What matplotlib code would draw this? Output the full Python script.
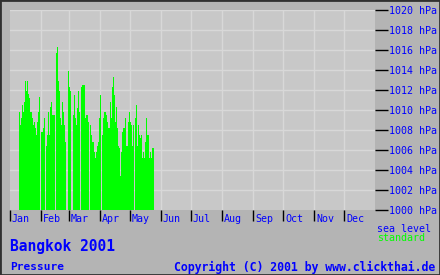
import numpy as np
import matplotlib
matplotlib.use('Agg')
import matplotlib.pyplot as plt
from matplotlib.patches import Rectangle

# daily air pressure (hPa), first value is day index 9 (Jan 10), None = no reading
first_day = 9
pressure = [
    1009.8, 1008.5, 1009.2, 1010.5, 1009.8, 1010.8, 1012.9, 1011.9, 1012.9, 1011.6,
    1011.2, 1009.8, 1009.8, 1009.2, 1008.5, 1008.8, 1008.2, 1007.5, 1008.8, 1009.8,
    1011.3, None, 1007.8, 1007.8, 1008.2, 1009.2, None, 1006.4, 1007.5, 1009.8,
    1007.5, 1010.3, 1010.8, 1009.5, 1009.5, 1009.5, None, 1015.7, 1016.3, 1012.9,
    1011.9, 1009.2, 1008.5, 1010.8, 1009.8, 1008.5, 1006.8, None, None, 1013.9,
    1012.3, 1011.9, None, None, 1009.5, 1011.5, 1009.2, 1008.5, 1010.2, 1011.9,
    1009.8, None, 1012.3, 1012.5, 1012.5, 1012.5, 1009.2, 1009.5, 1009.5, 1008.8,
    None, 1008.5, 1007.5, 1006.8, 1006.8, 1005.8, 1005.2, 1005.8, 1006.4, 1006.8,
    1009.2, 1011.5, None, 1007.5, 1009.2, 1009.8, 1009.8, 1009.5, 1008.8, 1008.2,
    1008.2, 1010.8, 1009.2, 1012.3, 1013.3, 1011.5, 1008.8, 1010.3, 1008.2, 1006.4,
    1006.2, 1003.4, 1005.8, 1007.8, 1008.2, 1008.2, 1009.2, 1006.4, 1006.4, 1008.8,
    1009.8, 1008.8, 1008.5, 1006.4, 1008.5, None, 1009.2, 1010.5, 1006.4, 1008.5,
    1007.5, 1007.2, 1007.5, 1005.2, 1005.8, 1005.2, 1006.8, 1009.2, 1007.5, 1007.5,
    1005.2, 1005.8, 1005.2, 1006.2, 1006.2,
]
months = ['Jan', 'Feb', 'Mar', 'Apr', 'May', 'Jun', 'Jul', 'Aug', 'Sep', 'Oct', 'Nov', 'Dec']
month_starts = [0, 31, 59, 90, 120, 151, 181, 212, 243, 273, 304, 334]
hpa_ticks = list(range(1000, 1021, 2))

blue = '#0000ff'
mono = 'DejaVu Sans Mono'

days = [first_day + i for i, p in enumerate(pressure) if p is not None]
vals = [p - 1000 for p in pressure if p is not None]

W, H = 440, 275
fig = plt.figure(figsize=(W / 100, H / 100), dpi=100, facecolor='#b4b4b4')
ax = fig.add_axes([10 / W, 65 / H, 365 / W, 200 / H])
ax.set_facecolor('#c8c8c8')

ax.bar(days, vals, bottom=1000, width=1, align='edge', color='#00ff00',
       linewidth=0, antialiased=False, zorder=2)

ax.set_xlim(0, 365)
ax.set_ylim(1000, 1020)
for s in ax.spines.values():
    s.set_visible(False)

# grid
for m in month_starts[1:]:
    ax.axvline(m, color='#d8d8d8', lw=1, zorder=1)
for h in hpa_ticks[1:]:
    ax.axhline(h, color='#d8d8d8', lw=1, zorder=1)

# month ticks and labels
ax.set_xticks(month_starts)
ax.tick_params(axis='x', direction='out', length=8, width=1, color='black',
               labelbottom=False, pad=0)
for m, name in zip(month_starts, months):
    ax.text(m + 2, -0.022, name, transform=ax.get_xaxis_transform(),
            ha='left', va='top', color=blue, family=mono, fontsize=7.2)

# pressure scale on the right
ax.yaxis.tick_right()
ax.set_yticks(hpa_ticks)
ax.set_yticklabels(['%d hPa' % h for h in hpa_ticks])
ax.tick_params(axis='y', direction='out', length=9, width=1, color='black',
               labelcolor=blue, pad=1, labelsize=7.2)
for lab in ax.get_yticklabels():
    lab.set_family(mono)

fig.text(377 / W, 1 - 229 / H, 'sea level', color=blue, family=mono,
         fontsize=7.2, va='center', ha='left')
fig.text(377 / W, 1 - 238 / H, 'standard', color='#00ff00', family=mono,
         fontsize=7.2, va='center', ha='left')

fig.text(10 / W, 1 - 247 / H, 'Bangkok 2001', color=blue, family=mono,
         fontsize=10.5, fontweight='bold', va='center', ha='left')
fig.text(10 / W, 1 - 267 / H, 'Pressure', color=blue, family=mono,
         fontsize=8, fontweight='bold', va='center', ha='left')
fig.text(435 / W, 1 - 267 / H, 'Copyright (C) 2001 by www.clickthai.de', color=blue,
         family=mono, fontsize=8.3, fontweight='bold', va='center', ha='right')

fig.patches.append(Rectangle((0, 0), 1, 1, transform=fig.transFigure, fill=False,
                             edgecolor='#303030', linewidth=2))

fig.savefig('out.png', dpi=100, facecolor=fig.get_facecolor())
